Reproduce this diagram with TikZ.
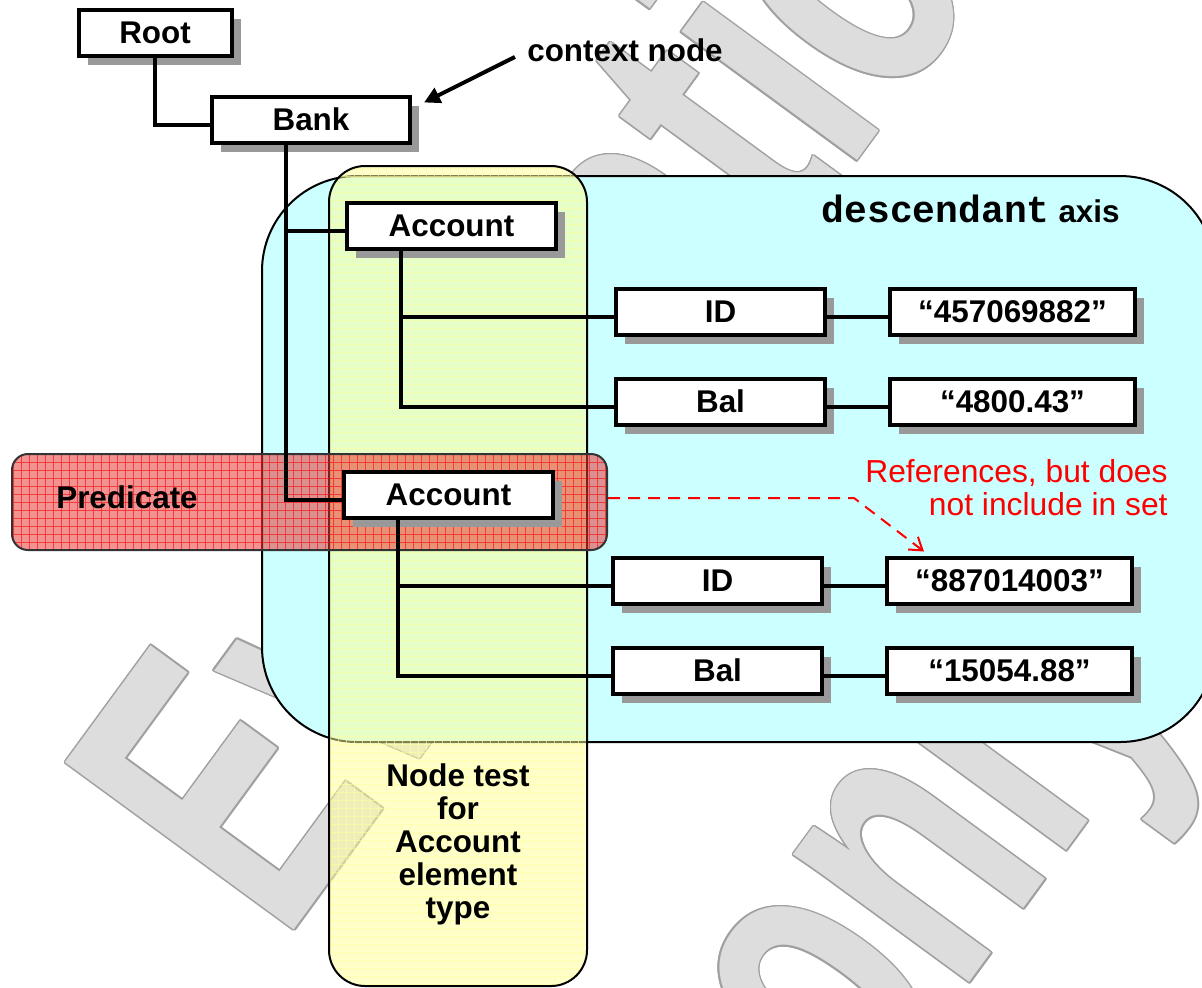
\documentclass[tikz,border=0pt]{standalone}
\usepackage{fontspec}
\setmainfont{Liberation Sans}
\newfontfamily\codefont{Liberation Mono}
\usepackage{graphicx}
\usepackage{tikz}
\usetikzlibrary{positioning,calc,shadows,arrows.meta}

\definecolor{axiscyan}{HTML}{CCFFFF}
\definecolor{testyellow}{HTML}{FFFF99}
\definecolor{predred}{HTML}{E83838}
\definecolor{shadowgray}{HTML}{999999}
\definecolor{wmfill}{HTML}{DDDDDD}
\definecolor{wmline}{HTML}{A0A0A0}

\begin{document}
\begin{tikzpicture}[x=0.5pt, y=-0.5pt,
  font=\fontsize{15.7}{16.5}\selectfont\bfseries,
  elembox/.style={draw, line width=2pt, fill=white, inner sep=0pt, minimum height=23pt, minimum width=104.5pt,
    drop shadow={shadow xshift=4.5pt, shadow yshift=-4.5pt, fill=shadowgray, opacity=1}},
  valuebox/.style={elembox, minimum width=122.5pt},
  link/.style={line width=2pt},
  pointer/.style={line width=2pt, -{Triangle[length=8pt, width=8pt]}},
  refarrow/.style={draw=red, line width=1pt, dash pattern=on 6pt off 4pt, -{Straight Barb[length=6pt, width=8pt]}},
  region/.style={draw=black, line width=1pt, inner sep=0pt},
  wmtext/.style={anchor=base west, inner sep=0pt, rotate=53.8, font=\fontsize{206}{206}\selectfont\bfseries}]
\useasboundingbox (0,0) rectangle (1202,987);

% watermark
\foreach \a in {0,30,...,330} {
  \node[wmtext, text=wmline, shift={(\a:0.8pt)}] (wmE\a) at (283.5,944.7) {\scalebox{0.65}[1]{Evaluation}};
  \node[wmtext, text=wmline, shift={(\a:0.8pt)}] (wmO\a) at (862,1130) {\scalebox{0.65}[1]{only}};
}
\node[wmtext, text=wmfill] (wmE) at (283.5,944.7) {\scalebox{0.65}[1]{Evaluation}};
\node[wmtext, text=wmfill] (wmO) at (862,1130) {\scalebox{0.65}[1]{only}};

% regions
\node[region, fill=axiscyan, rounded corners=47.5pt, minimum width=476.5pt, minimum height=283pt] (axisarea) at (738.5,459) {};
\node[region, fill=testyellow, fill opacity=0.5, rounded corners=18pt, minimum width=129pt, minimum height=410pt,
  path picture={\draw[testyellow, line width=0.5pt, draw opacity=0.6] (path picture bounding box.south west) grid[step=4pt] (path picture bounding box.north east);}] (testarea) at (458,576) {};
\node[region, draw=black!80, fill=predred, fill opacity=0.55, rounded corners=8pt, minimum width=297.5pt, minimum height=48pt,
  path picture={\draw[red, line width=0.4pt, draw opacity=0.6] (path picture bounding box.south west) grid[step=4pt] (path picture bounding box.north east);}] (predarea) at (309.5,502) {};

\node[anchor=base east, inner sep=0pt] (axislabel) at (1120,222) {{\codefont\fontsize{19}{20}\selectfont descendant} axis};
\node[inner sep=0pt] (predlabel) at (127,497) {Predicate};
\node[anchor=north, align=center, inner sep=0pt] (testlabel) at (458,763) {Node test\\for\\Account\\element\\type};

% tree
\node[elembox, minimum width=76.5pt] (root) at (155,32.5) {Root};
\node[elembox, minimum width=99pt] (bank) at (311,119.5) {Bank};
\node[elembox] (acc1) at (451.5,226) {Account};
\node[elembox] (id1) at (720.5,311.5) {ID};
\node[valuebox, right=30.5pt of id1] (val1) {“457069882”};
\node[elembox, below=20pt of id1] (bal1) {Bal};
\node[valuebox, right=30.5pt of bal1] (val2) {“4800.43”};
\node[elembox] (acc2) at (448.5,494.5) {Account};
\node[elembox] (id2) at (717.5,580.5) {ID};
\node[valuebox, right=30.5pt of id2] (val3) {“887014003”};
\node[elembox, below=20pt of id2] (bal2) {Bal};
\node[valuebox, right=30.5pt of bal2] (val4) {“15054.88”};

\coordinate (bankfoot) at ([xshift=-12.5pt]bank.south);
\coordinate (acc1foot) at ([xshift=-25.5pt]acc1.south);
\coordinate (acc2foot) at ([xshift=-25.5pt]acc2.south);
\draw[link] (root.south) |- ([yshift=-2.5pt]bank.west);
\draw[link] (bankfoot) |- ([yshift=-2.5pt]acc1.west);
\draw[link] (bankfoot) |- ([yshift=-2.5pt]acc2.west);
\draw[link] (acc1foot) |- ([yshift=-2.5pt]id1.west);
\draw[link] (acc1foot) |- ([yshift=-2.5pt]bal1.west);
\draw[link] (acc2foot) |- ([yshift=-2.5pt]id2.west);
\draw[link] (acc2foot) |- ([yshift=-2.5pt]bal2.west);
\draw[link] ([yshift=-2.5pt]id1.east) -- ([yshift=-2.5pt]val1.west);
\draw[link] ([yshift=-2.5pt]bal1.east) -- ([yshift=-2.5pt]val2.west);
\draw[link] ([yshift=-2.5pt]id2.east) -- ([yshift=-2.5pt]val3.west);
\draw[link] ([yshift=-2.5pt]bal2.east) -- ([yshift=-2.5pt]val4.west);

% notes
\node[inner sep=0pt] (ctxlabel) at (625,50) {context node};
\draw[pointer] ([xshift=-6pt,yshift=-3.5pt]ctxlabel.west) -- ([xshift=6pt,yshift=-4pt]bank.north east);
\node[anchor=north east, align=right, inner sep=0pt, text=red, font=\fontsize{15.9}{16.5}\selectfont\mdseries] (refnote) at (1168,459) {References, but does\\not include in set};
\draw[refarrow] ([yshift=2pt]predarea.east) -- ++(246,0) -- ([xshift=19.5pt,yshift=2pt]val3.north west);
\end{tikzpicture}
\end{document}
